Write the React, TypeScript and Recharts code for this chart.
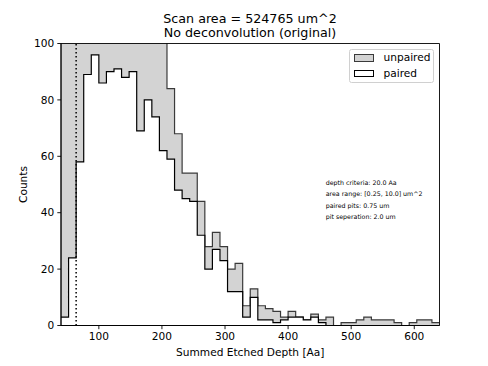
import React from 'react';
import {
  ComposedChart,
  Area,
  XAxis,
  YAxis,
  ReferenceLine,
  ReferenceArea,
  Label,
} from 'recharts';

// Histogram bin left edges (Summed Etched Depth [Aa]); the last entry closes the final bin.
const binEdges = [
  40, 52, 64, 76, 88, 100, 112, 124, 136, 148, 160, 172, 184, 196, 208, 220, 232,
  244, 256, 268, 280, 292, 304, 316, 328, 340, 352, 364, 376, 388, 400, 412, 424,
  436, 448, 460, 472, 484, 496, 508, 520, 532, 544, 556, 568, 580, 592, 604, 616,
  628, 640,
];

// Counts per bin (values above 100 are clipped in the original view)
const unpaired = [
  180, 170, 160, 150, 145, 140, 135, 130, 125, 120, 115, 110, 105, 102, 84, 68, 54,
  54, 44, 28, 33, 28, 20, 22, 7, 13, 7, 6, 5, 3, 5, 3, 2, 4, 2, 3, 0, 1, 1, 2, 3,
  2, 2, 2, 1, 0, 1, 2, 2, 1,
];

const paired = [
  3, 24, 58, 89, 96, 86, 90, 91, 88, 90, 69, 80, 74, 62, 59, 48, 45, 44, 32, 20,
  27, 23, 12, 12, 3, 10, 2, 2, 1, 2, 3, 3, 2, 3, 1, 0, 0, 0, 0, 0, 0, 0, 0, 0, 0,
  0, 0, 0, 0, 0,
];

const xTicks = [100, 200, 300, 400, 500, 600];
const yTicks = [0, 20, 40, 60, 80, 100];
const depthCriterion = 64;

const titleLines = ['Scan area = 524765 um^2', 'No deconvolution (original)'];
const infoLines = [
  'depth criteria: 20.0 Aa',
  'area range: [0.25, 10.0] um^2',
  'paired pits: 0.75 um',
  'pit seperation: 2.0 um',
];

const data = binEdges.map((x, i) => {
  const idx = Math.min(i, unpaired.length - 1);
  return { x, unpaired: unpaired[idx], paired: paired[idx] };
});

const FONT = '"DejaVu Sans", sans-serif';

export default function App() {
  return (
    <div
      style={{
        position: 'absolute',
        left: 0,
        top: 0,
        width: 488,
        height: 366,
        background: '#fff',
        fontFamily: FONT,
      }}
    >
      <ComposedChart
        width={488}
        height={366}
        data={data}
        margin={{ top: 43.5, right: 48.5, bottom: 0, left: 21 }}
      >
        <XAxis
          dataKey="x"
          type="number"
          domain={[40, 640]}
          ticks={xTicks}
          allowDataOverflow
          height={40.5}
          tickSize={3.7}
          tickMargin={3}
          axisLine={{ stroke: '#000', strokeWidth: 0.9 }}
          tickLine={{ stroke: '#000', strokeWidth: 0.9 }}
          tick={{ fill: '#000', fontSize: 10.6, fontFamily: FONT }}
        >
          <Label
            value="Summed Etched Depth [Aa]"
            position="insideBottom"
            offset={10}
            style={{ fill: '#000', fontSize: 10.6, fontFamily: FONT }}
          />
        </XAxis>
        <YAxis
          type="number"
          domain={[0, 100]}
          ticks={yTicks}
          allowDataOverflow
          width={40}
          tickSize={3.7}
          tickMargin={3}
          axisLine={{ stroke: '#000', strokeWidth: 0.9 }}
          tickLine={{ stroke: '#000', strokeWidth: 0.9 }}
          tick={{ fill: '#000', fontSize: 10.6, fontFamily: FONT }}
        >
          <Label
            value="Counts"
            angle={-90}
            position="insideLeft"
            offset={2.5}
            style={{ fill: '#000', fontSize: 10.6, fontFamily: FONT, textAnchor: 'middle' }}
          />
        </YAxis>
        <Area
          dataKey="unpaired"
          type="stepAfter"
          fill="#d3d3d3"
          fillOpacity={1}
          stroke="#3a3a3a"
          strokeWidth={1.2}
          isAnimationActive={false}
          dot={false}
          activeDot={false}
        />
        <Area
          dataKey="paired"
          type="stepAfter"
          fill="#ffffff"
          fillOpacity={1}
          stroke="#000"
          strokeWidth={1.2}
          isAnimationActive={false}
          dot={false}
          activeDot={false}
        />
        <ReferenceLine
          x={depthCriterion}
          stroke="#000"
          strokeWidth={1.5}
          strokeDasharray="1.5 2.5"
        />
        <ReferenceArea
          x1={40}
          x2={640}
          y1={0}
          y2={100}
          fill="none"
          fillOpacity={0}
          stroke="#000"
          strokeWidth={0.9}
          strokeOpacity={1}
        />
      </ComposedChart>

      {/* Title */}
      <div
        style={{
          position: 'absolute',
          left: 100,
          width: 300,
          top: 11.8,
          textAlign: 'center',
          fontSize: 12.7,
          lineHeight: '14.3px',
          color: '#000',
          whiteSpace: 'nowrap',
        }}
      >
        {titleLines.map((t) => (
          <div key={t}>{t}</div>
        ))}
      </div>

      {/* Legend */}
      <div
        style={{
          position: 'absolute',
          left: 349,
          top: 49,
          width: 85,
          height: 34,
          boxSizing: 'border-box',
          border: '1px solid #d0d0d0',
          borderRadius: 2.5,
          background: 'rgba(255,255,255,0.8)',
        }}
      >
        {[
          { name: 'unpaired', fill: '#d3d3d3', stroke: '#3a3a3a', y: 4 },
          { name: 'paired', fill: '#ffffff', stroke: '#000', y: 19.5 },
        ].map((e) => (
          <div key={e.name}>
            <div
              style={{
                position: 'absolute',
                left: 3.5,
                top: e.y,
                width: 20,
                height: 7.5,
                boxSizing: 'border-box',
                background: e.fill,
                border: `1.1px solid ${e.stroke}`,
              }}
            />
            <div
              style={{
                position: 'absolute',
                left: 33.5,
                top: e.y - 3,
                fontSize: 10.6,
                lineHeight: '13px',
                color: '#000',
                whiteSpace: 'nowrap',
              }}
            >
              {e.name}
            </div>
          </div>
        ))}
      </div>

      {/* Annotation */}
      <svg
        width={488}
        height={366}
        style={{ position: 'absolute', left: 0, top: 0, pointerEvents: 'none' }}
      >
        {infoLines.map((t, i) => (
          <text
            key={t}
            x={325.7}
            y={182.7 + i * 11.2}
            dominantBaseline="central"
            fontSize={6.3}
            fontFamily={FONT}
            fill="#000"
          >
            {t}
          </text>
        ))}
      </svg>
    </div>
  );
}
